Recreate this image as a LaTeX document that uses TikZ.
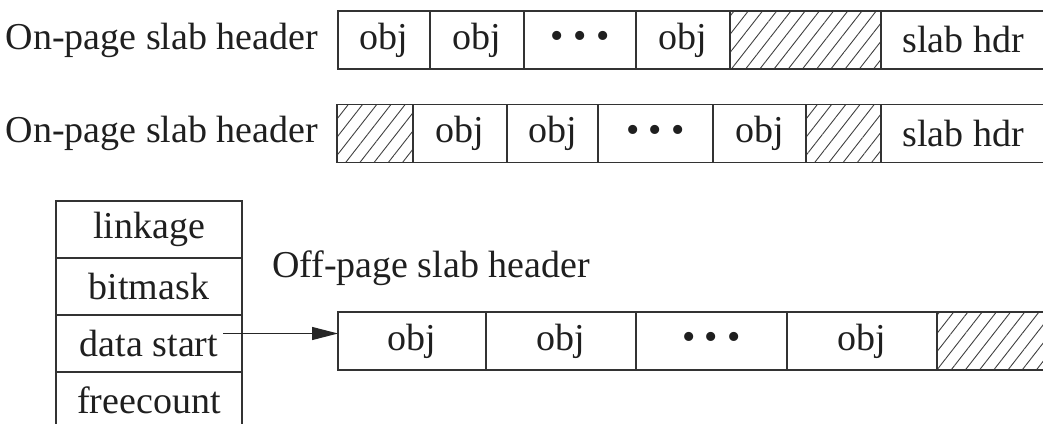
\documentclass[tikz,border=0pt]{standalone}
\usepackage{fontspec}
\setmainfont{Liberation Serif}
\usetikzlibrary{positioning,arrows.meta,patterns.meta,calc}
\tikzset{
  cell/.style  = {draw=black!80, line width=0.7pt, minimum height=29pt,
                  inner sep=0pt, outer sep=0pt, anchor=west},
  hatch/.style = {cell, pattern={Lines[angle=52, distance=5.6pt, line width=0.45pt]},
                  pattern color=black!75},
  fld/.style   = {draw=black!80, line width=0.7pt, minimum width=93pt,
                  minimum height=28.5pt, inner sep=0pt, outer sep=0pt},
  lbl/.style   = {inner sep=0pt, outer sep=0pt},
  ar/.style    = {-{Triangle[length=13pt, width=6.5pt]}, line width=0.6pt, black!85},
}

\begin{document}
\begin{tikzpicture}[x=0.5pt, y=-0.5pt, font=\fontsize{19}{22}\selectfont, text=black!88]
\path[use as bounding box, clip] (0,0) rectangle (1043,423);

% ===== on-page, header at the end =====
\node[cell, minimum width=46pt] (r1a) at (338,40) {obj};
\node[cell, minimum width=47pt, right=0pt of r1a] (r1b) {obj};
\node[cell, minimum width=56pt, right=0pt of r1b] (r1c) {\textbullet\ \textbullet\ \textbullet};
\node[cell, minimum width=47pt, right=0pt of r1c] (r1d) {obj};
\node[hatch, minimum width=75.5pt, right=0pt of r1d] (r1e) {};
\node[cell, minimum width=82pt, right=0pt of r1e] (r1f) {slab hdr};
\node[lbl, left=10pt of r1a] (onlbl1) {On-page slab header};

% ===== on-page, coloured =====
\node[hatch, minimum width=38pt] (r2a) at (337,133.5) {};
\node[cell, minimum width=47pt, right=0pt of r2a] (r2b) {obj};
\node[cell, minimum width=45.5pt, right=0pt of r2b] (r2c) {obj};
\node[cell, minimum width=57.5pt, right=0pt of r2c] (r2d) {\textbullet\ \textbullet\ \textbullet};
\node[cell, minimum width=46.5pt, right=0pt of r2d] (r2e) {obj};
\node[hatch, minimum width=37.5pt, right=0pt of r2e] (r2f) {};
\node[cell, minimum width=82pt, right=0pt of r2f] (r2g) {slab hdr};
\node[lbl, left=9.5pt of r2a] (onlbl2) {On-page slab header};

% ===== off-page header =====
\node[fld, anchor=north] (link) at (149,201) {linkage};
\node[fld, below=0pt of link] (bmask) {bitmask};
\node[fld, below=0pt of bmask] (dstart) {data start};
\node[fld, below=0pt of dstart] (fcount) {freecount};
\node[lbl, anchor=west] (offlbl) at (272,268) {Off-page slab header};

\node[cell, minimum width=74pt] (r3a) at (338,341) {obj};
\node[cell, minimum width=75pt, right=0pt of r3a] (r3b) {obj};
\node[cell, minimum width=75.5pt, right=0pt of r3b] (r3c) {\textbullet\ \textbullet\ \textbullet};
\node[cell, minimum width=75pt, right=0pt of r3c] (r3d) {obj};
\node[hatch, minimum width=60pt, right=0pt of r3d] (r3e) {};

% ===== connections =====
\coordinate (dsout) at ($(dstart.east)+(-19,-10)$);
\draw[ar] (dsout) -- (dsout -| r3a.west);
\end{tikzpicture}
\end{document}
